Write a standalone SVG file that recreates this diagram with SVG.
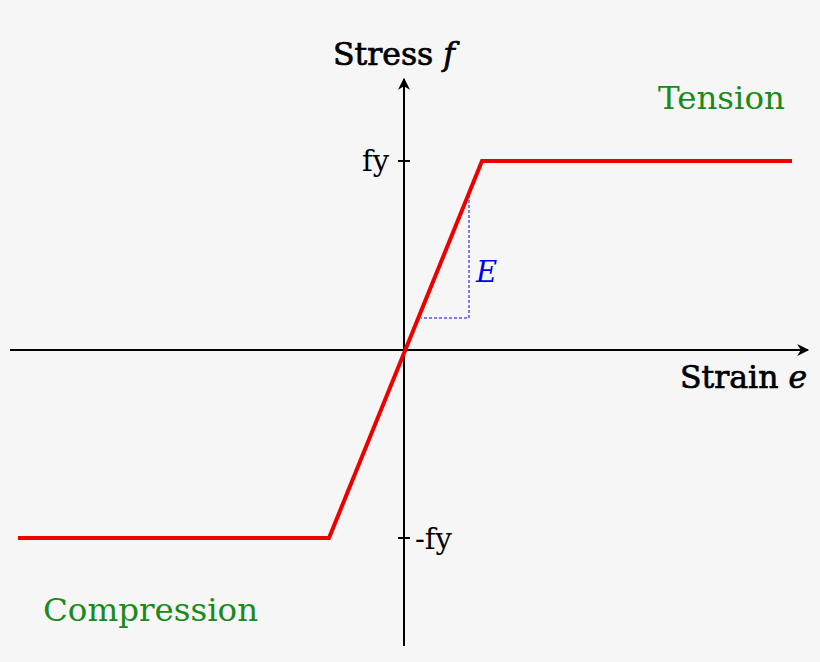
<svg xmlns="http://www.w3.org/2000/svg" width="820" height="662" viewBox="0 0 820 662">
<style>
text{font-family:"DejaVu Serif",serif}
.ax{stroke:#000;stroke-width:2;fill:none}
.lbl{font-size:31.5px;stroke:#000;stroke-width:0.7}
.tk{font-size:29px}
.zone{font-size:32.5px;fill:#1a8a1a}
</style>
<defs>
<marker id="ar" viewBox="0 0 10 10" refX="9" refY="5" markerWidth="16" markerHeight="12" markerUnits="userSpaceOnUse" orient="auto"><path d="M0,0 L10,5 L0,10 L3,5 Z" fill="#000"/></marker>
</defs>
<rect width="820" height="662" fill="#f6f6f6"/>
<g id="connectors">
<line class="ax" x1="404" y1="646" x2="404" y2="79" marker-end="url(#ar)"/>
<line class="ax" x1="10" y1="350" x2="808" y2="350" marker-end="url(#ar)"/>
<line class="ax" x1="398" y1="161" x2="410" y2="161" stroke-width="1"/>
<line class="ax" x1="398" y1="538" x2="410" y2="538" stroke-width="1"/>
<polyline points="469,190 469,318 421,318" fill="none" stroke="#0000ee" stroke-width="1" stroke-dasharray="3,2"/>
<polyline points="18,538 329,538 482,161 792,161" fill="none" stroke="#ee0000" stroke-width="4"/>
</g>
<g id="labels">
<text class="lbl" x="333" y="65">Stress <tspan font-style="italic">f</tspan></text>
<text class="lbl" x="680" y="388">Strain <tspan font-style="italic">e</tspan></text>
<text class="tk" x="362" y="171">fy</text>
<text class="tk" x="415" y="549">-fy</text>
<text x="476" y="282" font-size="29" font-style="italic" fill="#0000ee">E</text>
<text class="zone" x="658" y="109">Tension</text>
<text class="zone" x="43" y="621">Compression</text>
</g>
</svg>
